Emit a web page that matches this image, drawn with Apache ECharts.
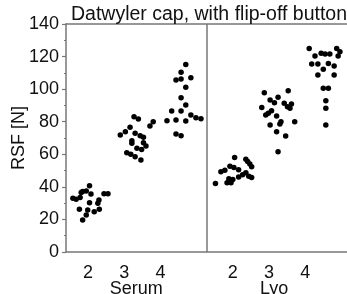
<!DOCTYPE html>
<html>
<head>
<meta charset="utf-8">
<script src="https://cdn.jsdelivr.net/npm/echarts@6/dist/echarts.min.js"></script>
<style>
html, body { margin: 0; padding: 0; background: #fff; }
#chart { width: 347px; height: 294px; }
</style>
</head>
<body>
<div id="chart"></div>
<script>
// tick positions on the x axis and what they read
const tickPos = [1, 2, 3, 5, 6, 7]
const tickLabels = ['2', '3', '4', '2', '3', '4']
const groupPos = [2.33, 6.14]
const groupLabels = ['Serum', 'Lyo']
const dividerX = 4.29

// [x position, RSF in N]
const serum2 = [[1.04, 40.7], [0.85, 37.2], [0.81, 36.5], [0.95, 37.5], [1.08, 35.6], [1.44, 35.8], [1.55, 35.8],
  [0.58, 33.0], [0.67, 32.4], [0.78, 33.5], [1.04, 30.3], [1.30, 31.9], [1.27, 29.9], [0.76, 26.2],
  [0.99, 25.8], [1.31, 26.2], [1.17, 24.7], [0.95, 22.7], [0.85, 19.6]]
const serum3 = [[2.27, 83.1], [2.39, 81.7], [2.80, 80.0], [2.71, 77.4], [2.16, 76.6], [2.03, 73.9], [1.89, 71.8],
  [2.30, 72.9], [2.44, 71.4], [2.53, 70.4], [2.21, 68.3], [2.53, 67.1], [2.60, 65.1], [2.21, 66.7],
  [2.35, 63.7], [2.48, 63.0], [2.07, 61.0], [2.18, 60.0], [2.30, 58.5], [2.46, 56.5]]
const serum4 = [[3.70, 115.2], [3.57, 110.3], [3.43, 105.6], [3.57, 106.2], [3.84, 107.0], [3.70, 101.1],
  [3.57, 94.7], [3.70, 90.3], [3.31, 86.6], [3.57, 86.6], [3.84, 84.1], [3.98, 82.5], [4.12, 81.8],
  [3.43, 81.0], [3.18, 80.6], [3.70, 80.4], [3.43, 72.5], [3.57, 71.4]]
const lyo2 = [[4.52, 42.0], [4.67, 49.2], [4.78, 50.2], [4.92, 52.7], [5.05, 58.0], [5.03, 51.9], [5.16, 50.5],
  [5.36, 57.0], [5.41, 55.5], [5.47, 54.0], [5.52, 52.3], [5.36, 48.6], [5.44, 46.5], [5.52, 45.8],
  [4.89, 45.0], [5.00, 44.5], [4.84, 42.5], [4.95, 42.5], [5.16, 46.0], [5.27, 47.5]]
const lyo3 = [[6.53, 99.0], [5.87, 97.8], [6.25, 95.0], [6.03, 93.3], [6.15, 91.7], [6.42, 91.3], [6.51, 89.2],
  [6.62, 90.9], [6.58, 88.2], [5.80, 88.8], [6.07, 86.8], [5.98, 85.2], [5.91, 84.1], [6.21, 83.5],
  [6.71, 80.0], [6.33, 80.0], [6.30, 78.6], [6.03, 78.0], [6.21, 73.9], [6.46, 71.2], [6.25, 61.6]]
const lyo4 = [[7.11, 125.0], [7.87, 125.0], [7.96, 123.0], [7.91, 120.3], [7.27, 120.3], [7.44, 122.0],
  [7.55, 121.6], [7.68, 121.6], [7.18, 115.4], [7.35, 115.4], [7.64, 115.8], [7.80, 114.2], [7.50, 112.2],
  [7.35, 108.7], [7.80, 108.7], [7.50, 100.5], [7.64, 100.5], [7.57, 92.9], [7.57, 88.2], [7.57, 78.0]]

const font = 'Liberation Sans, Arial, sans-serif'
const axisGray = '#777'
const xMin = 0.39
const xMax = 8.155

const myChart = echarts.init(document.getElementById('chart'))

const nearestLabel = (pos, labels) => v => {
  let best = 0
  pos.forEach((p, i) => { if (Math.abs(p - v) < Math.abs(pos[best] - v)) best = i })
  return labels[best]
}

myChart.setOption({
  animation: false,
  title: {
    text: 'Datwyler cap, with flip-off button',
    left: 66,
    top: 0,
    textStyle: { fontFamily: font, fontSize: 19.5, fontWeight: 'normal', color: '#111' }
  },
  grid: { left: 66, right: 0, top: 24, bottom: 42, outerBoundsMode: 'none', containLabel: false },
  xAxis: [
    {
      type: 'value', min: xMin, max: xMax,
      axisLine: { show: true, lineStyle: { color: axisGray, width: 1.5 } },
      axisTick: { show: false },
      splitLine: { show: false },
      axisLabel: {
        customValues: tickPos,
        formatter: nearestLabel(tickPos, tickLabels),
        margin: 12,
        fontFamily: font, fontSize: 18, color: '#111'
      }
    },
    {
      type: 'value', min: xMin, max: xMax, position: 'bottom',
      axisLine: { show: false }, axisTick: { show: false }, splitLine: { show: false },
      axisLabel: {
        customValues: groupPos,
        formatter: nearestLabel(groupPos, groupLabels),
        margin: 28,
        fontFamily: font, fontSize: 18, color: '#111'
      }
    },
    {
      type: 'value', min: xMin, max: xMax, position: 'top',
      axisLine: { show: true, lineStyle: { color: axisGray, width: 1.5 } },
      axisTick: { show: false }, axisLabel: { show: false }, splitLine: { show: false }
    }
  ],
  yAxis: {
    type: 'value', min: 0, max: 140, interval: 20,
    name: 'RSF [N]', nameLocation: 'middle', nameGap: 38, nameMoveOverlap: false,
    nameTextStyle: { fontFamily: font, fontSize: 18, color: '#111' },
    axisLine: { show: true, lineStyle: { color: axisGray, width: 1.5 } },
    axisTick: { show: true, length: 4, lineStyle: { color: axisGray, width: 1.2 } },
    minorTick: { show: true, splitNumber: 2, length: 2, lineStyle: { color: axisGray } },
    splitLine: { show: false },
    axisLabel: { margin: 7, fontFamily: font, fontSize: 18, color: '#111' }
  },
  series: [serum2, serum3, serum4, lyo2, lyo3, lyo4].map((d, i) => ({
    type: 'scatter',
    data: d,
    symbolSize: 5.5,
    itemStyle: { color: '#000', opacity: 1 },
    markLine: i === 0 ? {
      silent: true, symbol: 'none', label: { show: false },
      lineStyle: { color: axisGray, width: 1.5, type: 'solid' },
      data: [{ xAxis: dividerX }]
    } : undefined
  }))
})
</script>
</body>
</html>
